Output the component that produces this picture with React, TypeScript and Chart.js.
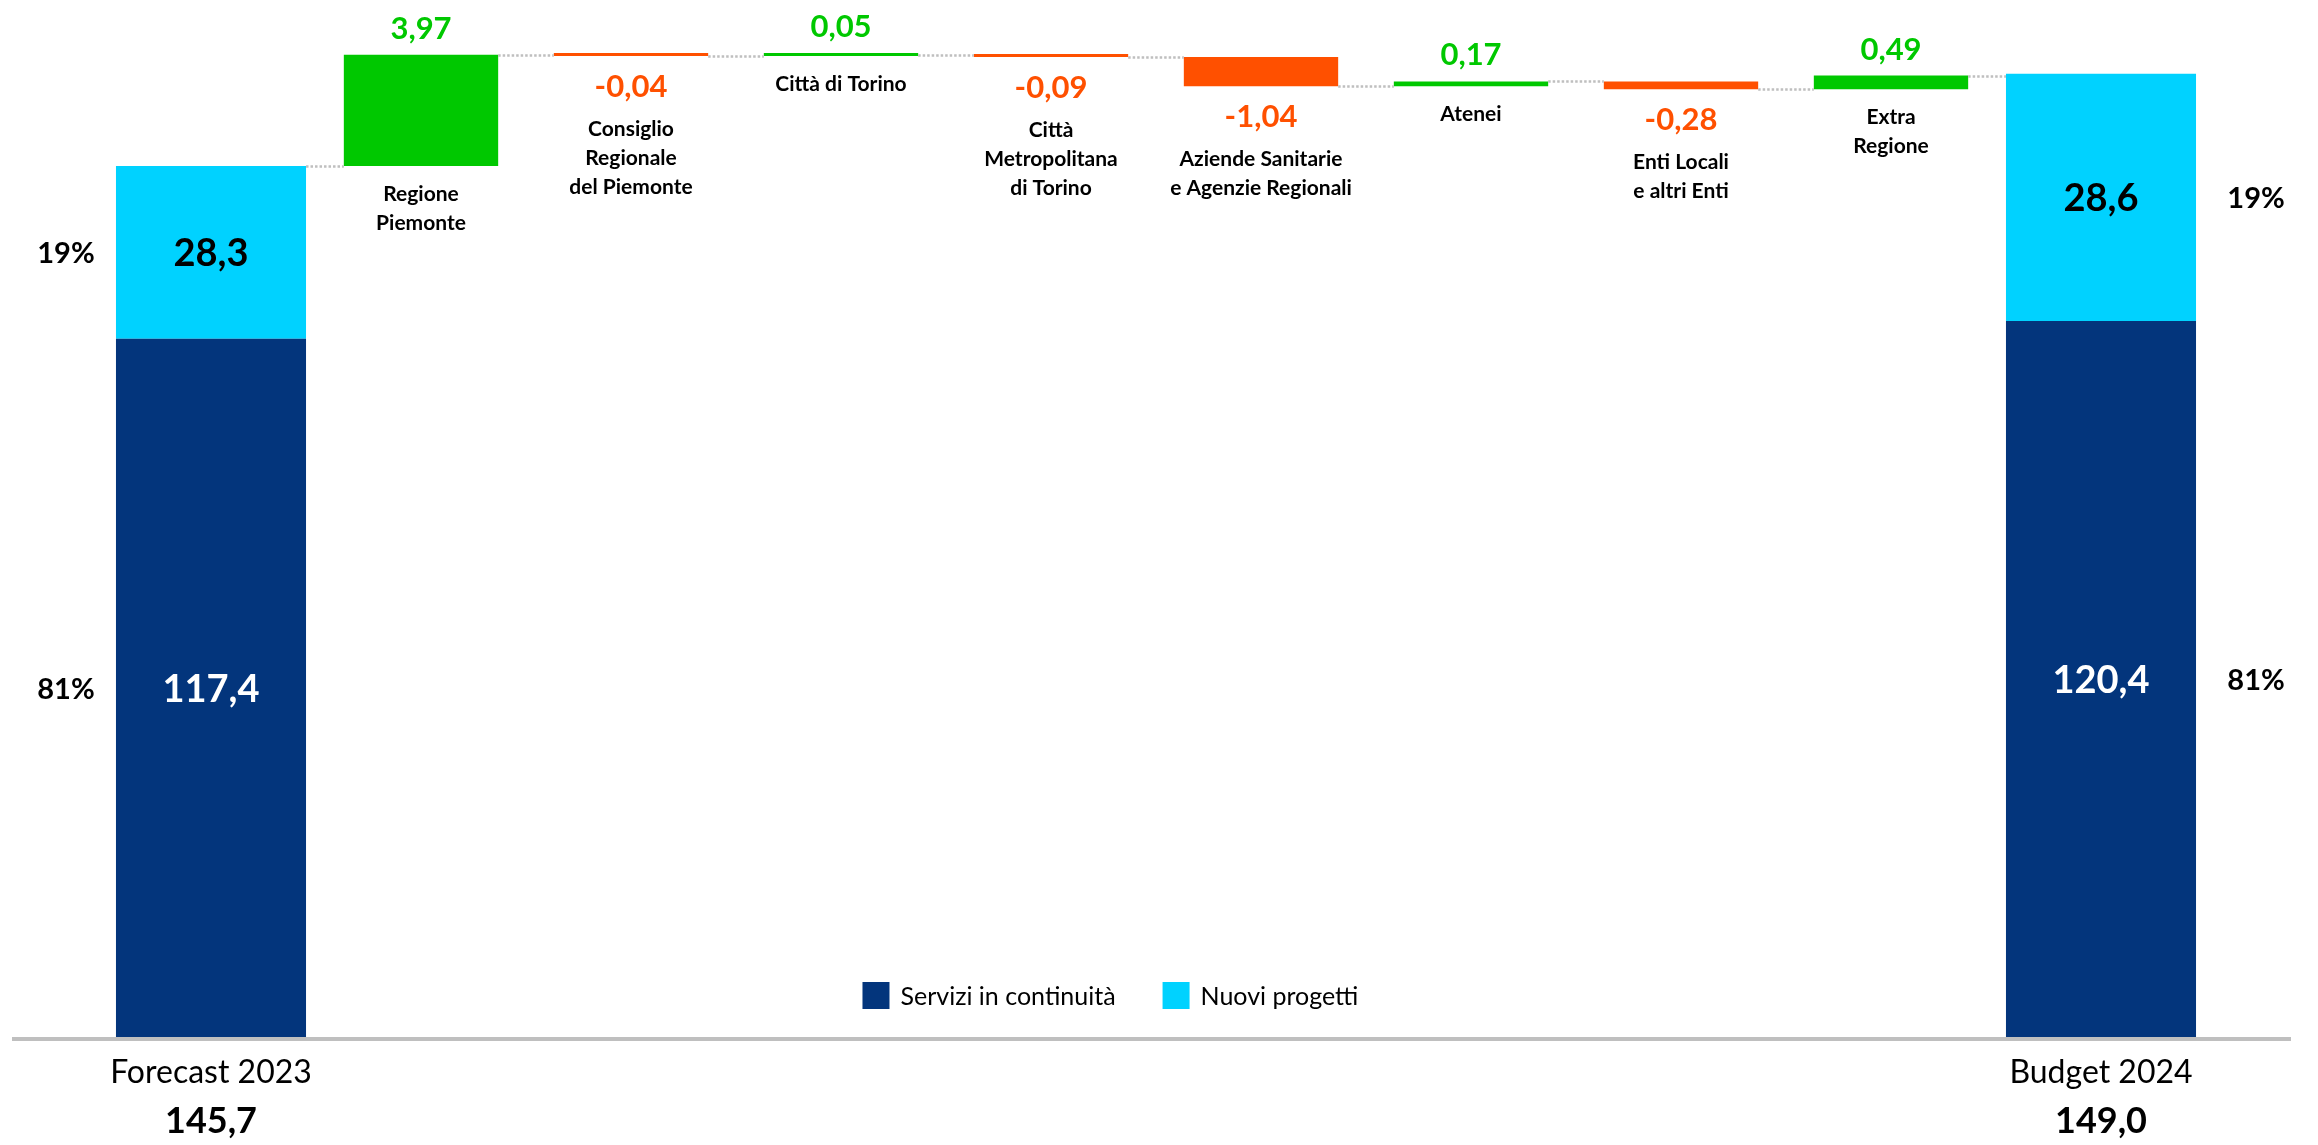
import React, { useEffect, useRef } from 'react';
import { Chart, registerables, LinearScale } from 'chart.js';

// ---------- data ----------
const categories = [
  'Forecast 2023',
  'Regione Piemonte',
  'Consiglio Regionale del Piemonte',
  'Città di Torino',
  'Città Metropolitana di Torino',
  'Aziende Sanitarie e Agenzie Regionali',
  'Atenei',
  'Enti Locali e altri Enti',
  'Extra Regione',
  'Budget 2024',
];
const categoryLabelLines = [
  ['Forecast 2023'],
  ['Regione', 'Piemonte'],
  ['Consiglio', 'Regionale', 'del Piemonte'],
  ['Città di Torino'],
  ['Città', 'Metropolitana', 'di Torino'],
  ['Aziende Sanitarie', 'e Agenzie Regionali'],
  ['Atenei'],
  ['Enti Locali', 'e altri Enti'],
  ['Extra', 'Regione'],
  ['Budget 2024'],
];
const seriesNames = ['Servizi in continuità', 'Nuovi progetti'];
const serviziInContinuita = [117.4, null, null, null, null, null, null, null, null, 120.4];
const nuoviProgetti = [28.3, null, null, null, null, null, null, null, null, 28.6];
const variazioni = [null, 3.97, -0.04, 0.05, -0.09, -1.04, 0.17, -0.28, 0.49, null];

// ---------- styling ----------
const NAVY = '#03357C';
const CYAN = '#00D2FF';
const GREEN = '#00C800';
const ORANGE = '#FF5000';
const GRAY = '#BFBFBF';
const FONT = 'Lato, "Open Sans", sans-serif';

// Broken value axis: linear up to BREAK_VALUE, stretched above it (waterfall zone)
const BREAK_VALUE = 145.5;
const UPPER_STRETCH = 4.707;

class BrokenLinearScale extends LinearScale {
  static id = 'brokenLinear';
  static defaults = {};
  tf(v: number) {
    return v <= BREAK_VALUE ? v : BREAK_VALUE + (v - BREAK_VALUE) * UPPER_STRETCH;
  }
  getPixelForValue(value: any) {
    if (value === null || value === undefined || isNaN(value)) return NaN;
    const lo = this.tf(this.min);
    const hi = this.tf(this.max);
    return this.getPixelForDecimal((this.tf(value) - lo) / (hi - lo));
  }
  getValueForPixel(pixel: number) {
    const lo = this.tf(this.min);
    const hi = this.tf(this.max);
    const t = lo + this.getDecimalForPixel(pixel) * (hi - lo);
    return t <= BREAK_VALUE ? t : BREAK_VALUE + (t - BREAK_VALUE) / UPPER_STRETCH;
  }
}

Chart.register(...registerables, BrokenLinearScale);

// ---------- derived ----------
const fmt = (v: number, d: number) => v.toFixed(d).replace('.', ',');
const startTotal = (serviziInContinuita[0] as number) + (nuoviProgetti[0] as number);
const floatingBars: (number[] | null)[] = [];
const levels: number[] = [];
{
  let run = startTotal;
  variazioni.forEach((v, i) => {
    if (v == null) {
      floatingBars.push(null);
      if (i === 0) levels.push(run);
      else levels.push((serviziInContinuita[i] as number) + (nuoviProgetti[i] as number));
    } else {
      floatingBars.push([run, run + v]);
      run += v;
      levels.push(run);
    }
  });
}
const deltaColors = variazioni.map((v) => (v == null ? 'rgba(0,0,0,0)' : v >= 0 ? GREEN : ORANGE));

const annotationsPlugin = {
  id: 'waterfallAnnotations',
  afterDatasetsDraw(chart: any) {
    const { ctx, chartArea } = chart;
    const yScale = chart.scales.y;
    const baseMeta = chart.getDatasetMeta(0);
    const topMeta = chart.getDatasetMeta(1);
    const varMeta = chart.getDatasetMeta(2);
    const last = categories.length - 1;
    const barAt = (i: number) => (variazioni[i] == null ? baseMeta.data[i] : varMeta.data[i]);

    ctx.save();
    // baseline axis
    ctx.fillStyle = GRAY;
    ctx.fillRect(12, chartArea.bottom, chart.width - 39, 4);

    // dotted connectors
    ctx.strokeStyle = GRAY;
    ctx.lineWidth = 2.5;
    ctx.setLineDash([2.5, 2]);
    for (let i = 0; i < last; i++) {
      const a = barAt(i);
      const b = barAt(i + 1);
      const y = Math.round(yScale.getPixelForValue(levels[i])) + 0.5;
      ctx.beginPath();
      ctx.moveTo(a.x + a.width / 2, y);
      ctx.lineTo(b.x - b.width / 2, y);
      ctx.stroke();
    }
    ctx.setLineDash([]);

    ctx.textAlign = 'center';
    ctx.textBaseline = 'alphabetic';

    // waterfall labels
    for (let i = 1; i < last; i++) {
      const v = variazioni[i] as number;
      const el = varMeta.data[i];
      const top = Math.min(el.y, el.base);
      const bottom = Math.max(el.y, el.base);
      ctx.font = `bold 31px ${FONT}`;
      ctx.fillStyle = v >= 0 ? GREEN : ORANGE;
      let nameY: number;
      if (v >= 0) {
        ctx.fillText(fmt(v, 2), el.x, top - 16);
        nameY = bottom + 35;
      } else {
        const vy = bottom + 41;
        ctx.fillText(fmt(v, 2), el.x, vy);
        nameY = vy + 39;
      }
      ctx.font = `bold 21px ${FONT}`;
      ctx.fillStyle = '#000';
      categoryLabelLines[i].forEach((line, k) => ctx.fillText(line, el.x, nameY + k * 29));
    }

    // totals
    [0, last].forEach((i) => {
      const nav = baseMeta.data[i];
      const cy = topMeta.data[i];
      const s = serviziInContinuita[i] as number;
      const n = nuoviProgetti[i] as number;
      const total = s + n;
      const navMid = (nav.y + nav.base) / 2;
      const cyMid = (cy.y + cy.base) / 2;
      ctx.font = `bold 38px ${FONT}`;
      ctx.fillStyle = '#fff';
      ctx.fillText(fmt(s, 1), nav.x, navMid + 14);
      ctx.fillStyle = '#000';
      ctx.fillText(fmt(n, 1), cy.x, cyMid + 14);

      ctx.font = `bold 29px ${FONT}`;
      const px = i === 0 ? nav.x - nav.width / 2 - 50 : nav.x + nav.width / 2 + 60;
      ctx.fillText(Math.round((n / total) * 100) + '%', px, cyMid + 11);
      ctx.fillText(Math.round((s / total) * 100) + '%', px, navMid + 11);

      ctx.font = `32px ${FONT}`;
      ctx.fillText(categoryLabelLines[i][0], nav.x, chartArea.bottom + 46);
      ctx.font = `bold 36px ${FONT}`;
      ctx.fillText(fmt(total, 1), nav.x, chartArea.bottom + 96);
    });

    // legend
    ctx.font = `25px ${FONT}`;
    ctx.textAlign = 'left';
    const items = [0, 1].map((d) => ({
      label: chart.data.datasets[d].label as string,
      color: chart.data.datasets[d].backgroundColor as string,
    }));
    const sq = 27;
    const gapText = 11;
    const gapItem = 47;
    const widths = items.map((it) => sq + gapText + ctx.measureText(it.label).width);
    const totalW = widths[0] + gapItem + widths[1];
    let lx = chartArea.left + chartArea.width * 0.4783 - totalW / 2;
    const ly = chartArea.bottom - 55;
    items.forEach((it, k) => {
      ctx.fillStyle = it.color;
      ctx.fillRect(lx, ly, sq, sq);
      ctx.fillStyle = '#000';
      ctx.fillText(it.label, lx + sq + gapText, ly + 23);
      lx += widths[k] + gapItem;
    });

    ctx.restore();
  },
};

export default function App() {
  const ref = useRef<HTMLCanvasElement>(null);
  useEffect(() => {
    const canvas = ref.current;
    if (!canvas) return;
    const chart = new Chart(canvas, {
      type: 'bar',
      data: {
        labels: categories,
        datasets: [
          {
            label: seriesNames[0],
            data: serviziInContinuita,
            backgroundColor: NAVY,
            stack: 'totale',
            grouped: false,
            barPercentage: 0.905,
            categoryPercentage: 1,
          },
          {
            label: seriesNames[1],
            data: nuoviProgetti,
            backgroundColor: CYAN,
            stack: 'totale',
            grouped: false,
            barPercentage: 0.905,
            categoryPercentage: 1,
          },
          {
            label: 'Variazioni',
            data: floatingBars as any,
            backgroundColor: deltaColors,
            stack: 'variazioni',
            grouped: false,
            barPercentage: 0.735,
            categoryPercentage: 1,
            minBarLength: 3,
          },
        ],
      } as any,
      options: {
        responsive: false,
        animation: false,
        layout: { padding: { left: 106, right: 112, top: 0, bottom: 108 } },
        scales: {
          x: { type: 'category', display: false, offset: true },
          y: {
            type: 'brokenLinear' as any,
            display: false,
            min: 0,
            max: 151.63,
            stacked: true,
            bounds: 'data',
          } as any,
        },
        plugins: {
          legend: { display: false },
          tooltip: { enabled: false },
        },
      },
      plugins: [annotationsPlugin],
    });
    return () => chart.destroy();
  }, []);

  return (
    <div style={{ position: 'fixed', left: 0, top: 0, width: 2318, height: 1145, background: '#fff' }}>
      <canvas ref={ref} width={2318} height={1145} style={{ display: 'block', width: 2318, height: 1145 }} />
    </div>
  );
}
